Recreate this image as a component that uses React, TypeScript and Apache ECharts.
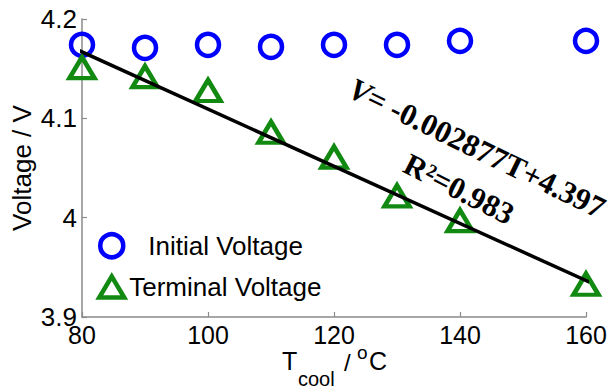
import React, { useEffect, useRef } from "react";
import * as echarts from "echarts";

const temps = [80, 90, 100, 110, 120, 130, 140, 160];
const initialVoltage = [4.174, 4.171, 4.174, 4.172, 4.174, 4.174, 4.178, 4.178];
const terminalVoltage = [4.151, 4.142, 4.128, 4.086, 4.061, 4.022, 3.997, 3.933];
const fitSlope = -0.002877;
const fitIntercept = 4.397;
const fitRange = [77.6, 162.4];
const r2 = 0.983;
const seriesNames = ["Initial Voltage", "Terminal Voltage"];

const SANS = "'Liberation Sans', Arial, sans-serif";
const SERIF = "'Liberation Serif', 'Times New Roman', serif";
const AXIS_GRAY = "#8a8a8a";
const BLUE = "#0000ff";
const GREEN = "#128a12";
const deg = Math.PI / 180;

export default function App() {
  const ref = useRef<HTMLDivElement>(null);
  useEffect(() => {
    if (!ref.current) return;
    const chart = echarts.init(ref.current, undefined, { renderer: "svg" });
    const fitData = fitRange.map((t) => [t, fitIntercept + fitSlope * t]);
    chart.setOption({
      animation: false,
      backgroundColor: "#ffffff",
      grid: { left: 82, right: 29, top: 19, bottom: 73, containLabel: false },
      xAxis: {
        type: "value",
        min: 80,
        max: 160,
        interval: 20,
        axisLine: { show: true, lineStyle: { color: AXIS_GRAY, width: 1.5 } },
        axisTick: { show: true, inside: true, length: 5, lineStyle: { color: AXIS_GRAY, width: 1.2 } },
        axisLabel: { color: "#000", fontSize: 25, fontFamily: SANS, margin: 5 },
        splitLine: { show: false },
      },
      yAxis: {
        type: "value",
        min: 3.9,
        max: 4.2,
        interval: 0.1,
        axisLine: { show: true, lineStyle: { color: AXIS_GRAY, width: 1.5 } },
        axisTick: { show: true, inside: true, length: 5, lineStyle: { color: AXIS_GRAY, width: 1.2 } },
        axisLabel: {
          color: "#000",
          fontSize: 26,
          fontFamily: SANS,
          margin: 5,
          formatter: (v: number) => String(Math.round(v * 10) / 10),
        },
        splitLine: { show: false },
      },
      legend: [
        {
          data: [
            {
              name: seriesNames[0],
              icon: "circle",
              itemStyle: { color: "rgba(0,0,0,0)", borderColor: BLUE, borderWidth: 4.5 },
            },
          ],
          left: 98,
          top: 232,
          padding: 0,
          itemWidth: 23,
          itemHeight: 23,
          textStyle: { color: "#000", fontSize: 26, fontFamily: SANS, padding: [0, 0, 0, 20] },
        },
        {
          data: [
            {
              name: seriesNames[1],
              icon: "triangle",
              itemStyle: { color: "rgba(0,0,0,0)", borderColor: GREEN, borderWidth: 4.5 },
            },
          ],
          left: 97,
          top: 274,
          padding: 0,
          itemWidth: 25,
          itemHeight: 21,
          textStyle: { color: "#000", fontSize: 26, fontFamily: SANS },
        },
      ],
      series: [
        {
          name: seriesNames[0],
          type: "scatter",
          symbol: "circle",
          symbolSize: 22,
          data: temps.map((t, i) => [t, initialVoltage[i]]),
          itemStyle: { color: "rgba(0,0,0,0)", borderColor: BLUE, borderWidth: 4.5, opacity: 1 },
          clip: false,
          z: 2,
        },
        {
          name: seriesNames[1],
          type: "scatter",
          symbol: "triangle",
          symbolSize: [25, 21],
          data: temps.map((t, i) => [t, terminalVoltage[i]]),
          itemStyle: { color: "rgba(0,0,0,0)", borderColor: GREEN, borderWidth: 4.5, opacity: 1 },
          clip: false,
          z: 2,
        },
        {
          name: "fit",
          type: "line",
          data: fitData,
          showSymbol: false,
          symbol: "none",
          clip: false,
          lineStyle: { color: "#000", width: 3.5 },
          z: 5,
        },
      ],
      graphic: [
        {
          type: "text",
          x: 22,
          y: 168,
          rotation: Math.PI / 2,
          style: {
            text: "Voltage / V",
            fontSize: 26,
            fontFamily: SANS,
            fill: "#000",
            align: "center",
            verticalAlign: "middle",
          },
        },
        {
          type: "text",
          x: 477,
          y: 148,
          rotation: -26 * deg,
          z: 10,
          style: {
            text: "{i|V}{b|= " + fitSlope.toFixed(6) + "T+" + fitIntercept.toFixed(3) + "}",
            align: "center",
            verticalAlign: "middle",
            rich: {
              i: { fontSize: 31, fontFamily: SERIF, fontWeight: "bold", fontStyle: "italic", fill: "#000" },
              b: { fontSize: 31, fontFamily: SERIF, fontWeight: "bold", fill: "#000" },
            },
          },
        },
        {
          type: "text",
          x: 459,
          y: 189,
          rotation: -27 * deg,
          z: 10,
          style: {
            text: "R\u00b2=" + r2.toFixed(3),
            fontSize: 31,
            fontFamily: SERIF,
            fontWeight: "bold",
            fill: "#000",
            align: "center",
            verticalAlign: "middle",
          },
        },
        {
          type: "text",
          x: 282,
          y: 361,
          style: { text: "T", fontSize: 25, fontFamily: SANS, fill: "#000", verticalAlign: "middle" },
        },
        {
          type: "text",
          x: 298,
          y: 379,
          style: { text: "cool", fontSize: 20, fontFamily: SANS, fill: "#000", verticalAlign: "middle" },
        },
        {
          type: "text",
          x: 344,
          y: 362,
          style: { text: "/", fontSize: 24, fontFamily: SANS, fill: "#000", verticalAlign: "middle" },
        },
        {
          type: "text",
          x: 357,
          y: 352,
          style: { text: "o", fontSize: 19, fontFamily: SANS, fill: "#000", verticalAlign: "middle" },
        },
        {
          type: "text",
          x: 369,
          y: 361,
          style: { text: "C", fontSize: 25, fontFamily: SANS, fill: "#000", verticalAlign: "middle" },
        },
      ],
    });
    return () => chart.dispose();
  }, []);
  return <div ref={ref} style={{ position: "fixed", left: 0, top: 0, width: 615, height: 390 }} />;
}
